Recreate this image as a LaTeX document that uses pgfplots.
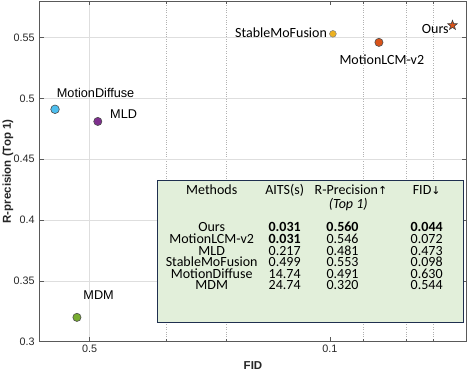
\documentclass[border=0pt]{standalone}
\usepackage{fontspec}
\setmainfont{Liberation Sans}
\newfontfamily\calfont{Carlito}
\newfontfamily\symfont{DejaVu Sans}
\usepackage{pgfplots}
\pgfplotsset{compat=1.18}

\definecolor{cDiff}{HTML}{4DBEEE}
\definecolor{cMLD}{HTML}{7E2F8E}
\definecolor{cMDM}{HTML}{77AC30}
\definecolor{cStable}{HTML}{EDB120}
\definecolor{cLCM}{HTML}{D95319}
\definecolor{cTab}{HTML}{E2EFDA}
\definecolor{cBorder}{HTML}{1F2F4F}

% filled five-pointed star (MATLAB pentagram)
\pgfdeclareplotmark{pstar}{%
  \pgfpathmoveto{\pgfpointpolar{90}{\pgfplotmarksize}}%
  \pgfpathlineto{\pgfpointpolar{126}{0.42\pgfplotmarksize}}%
  \pgfpathlineto{\pgfpointpolar{162}{\pgfplotmarksize}}%
  \pgfpathlineto{\pgfpointpolar{198}{0.42\pgfplotmarksize}}%
  \pgfpathlineto{\pgfpointpolar{234}{\pgfplotmarksize}}%
  \pgfpathlineto{\pgfpointpolar{270}{0.42\pgfplotmarksize}}%
  \pgfpathlineto{\pgfpointpolar{306}{\pgfplotmarksize}}%
  \pgfpathlineto{\pgfpointpolar{342}{0.42\pgfplotmarksize}}%
  \pgfpathlineto{\pgfpointpolar{18}{\pgfplotmarksize}}%
  \pgfpathlineto{\pgfpointpolar{54}{0.42\pgfplotmarksize}}%
  \pgfpathclose
  \pgfusepathqfillstroke}

\newcommand{\trow}[5]{%
  \node[anchor=base] at (211.7,#1) {#2};
  \node[anchor=base] at (284.7,#1) {#3};
  \node[anchor=base] at (342.5,#1) {#4};
  \node[anchor=base] at (426.7,#1) {#5};}

\begin{document}
\begin{tikzpicture}
\begin{axis}[
    name=ax,
    scale only axis,
    width=427.4pt,
    height=340.7pt,
    xmode=log,
    x dir=reverse,
    xmin=0.04, xmax=0.7,
    ymin=0.3, ymax=0.58,
    xtick={0.1},
    xticklabels={0.1},
    extra x ticks={0.5},
    extra x tick labels={0.5},
    extra x tick style={grid=major},
    minor xtick={0.3,0.2,0.08,0.06,0.05},
    xminorgrids,
    ytick={0.3,0.35,0.4,0.45,0.5,0.55},
    yticklabels={0.3,0.35,0.4,0.45,0.5,0.55},
    ymajorgrids,
    major grid style={black!13, line width=0.5pt},
    minor grid style={black!30, dotted, line width=0.5pt},
    tick align=inside,
    major tick length=4.5pt,
    minor tick length=3pt,
    tick style={black!65, line width=0.5pt},
    axis line style={black!65, line width=0.6pt},
    ticklabel style={font=\fontsize{10.8}{12}\selectfont, text=black!85},
    /pgf/number format/assume math mode=true,
    yticklabel style={xshift=-1.2pt},
    xlabel={FID},
    ylabel={R-precision (Top 1)},
    xlabel style={font=\bfseries\fontsize{11.5}{13}\selectfont, text=black!85,
        at={(axis description cs:0.5,-0.0713)}, anchor=center},
    ylabel style={font=\bfseries\fontsize{11.5}{13}\selectfont, text=black!85,
        at={(axis description cs:-0.0735,0.5)}, anchor=center},
    clip=false,
]
% MotionDiffuse
\addplot[only marks, mark=*, mark size=4.3pt,
    mark options={fill=cDiff, draw=black!70, line width=0.6pt}]
    coordinates {(0.630,0.491)};
% MLD
\addplot[only marks, mark=*, mark size=4.1pt,
    mark options={fill=cMLD, draw=black!70, line width=0.6pt}]
    coordinates {(0.473,0.481)};
% MDM
\addplot[only marks, mark=*, mark size=4.1pt,
    mark options={fill=cMDM, draw=black!70, line width=0.6pt}]
    coordinates {(0.544,0.320)};
% StableMoFusion
\addplot[only marks, mark=*, mark size=3.4pt,
    mark options={fill=cStable, draw=black!50, line width=0.5pt}]
    coordinates {(0.098,0.553)};
% MotionLCM-v2
\addplot[only marks, mark=*, mark size=4.1pt,
    mark options={fill=cLCM, draw=black!70, line width=0.6pt}]
    coordinates {(0.072,0.546)};
% Ours
\addplot[only marks, mark=pstar, mark size=5pt,
    mark options={fill=cLCM, draw=black!75, line width=0.6pt}]
    coordinates {(0.044,0.560)};
\end{axis}

% annotations, in pixel units from the top-left corner of the figure
\begin{scope}[shift={(ax.north west)}, xshift=-39.3pt, yshift=1pt, x=1pt, y=-1pt,
    every node/.style={inner sep=0pt}]
  \node[anchor=base west, font=\fontsize{12.7}{14}\selectfont] at (56.7,97.3) {MotionDiffuse};
  \node[anchor=base west, font=\fontsize{12.7}{14}\selectfont] at (110,119) {MLD};
  \node[anchor=base west, font=\fontsize{12.7}{14}\selectfont] at (83.3,299.3) {MDM};
  \node[anchor=base west, font=\calfont\fontsize{14}{16}\selectfont] at (235,37.3) {StableMoFusion};
  \node[anchor=base west, font=\calfont\fontsize{14}{16}\selectfont] at (339.3,65) {MotionLCM-v2};
  \node[anchor=base west, font=\calfont\fontsize{14}{16}\selectfont] at (421.7,33.3) {Ours};

  \draw[draw=cBorder, line width=0.9pt, fill=cTab] (157.3,180) rectangle (463.3,322.5);
  \begin{scope}[font=\calfont\fontsize{14}{15}\selectfont]
    \node[anchor=base] at (211.7,194.4) {Methods};
    \node[anchor=base] at (284.7,194.4) {AITS(s)};
    \node[anchor=base] at (351,194.4) {R-Precision{\symfont\fontsize{11}{13}\selectfont↑}};
    \node[anchor=base] at (426.7,194.4) {FID{\symfont\fontsize{11}{13}\selectfont↓}};
    \node[anchor=base] at (348.3,208.8) {\itshape (Top 1)};
    \trow{231.1}{Ours}{\bfseries 0.031}{\bfseries 0.560}{\bfseries 0.044}
    \trow{243.7}{MotionLCM-v2}{\bfseries 0.031}{0.546}{0.072}
    \trow{255.1}{MLD}{0.217}{0.481}{0.473}
    \trow{266.7}{StableMoFusion}{0.499}{0.553}{0.098}
    \trow{278.4}{MotionDiffuse}{14.74}{0.491}{0.630}
    \trow{289.4}{MDM}{24.74}{0.320}{0.544}
  \end{scope}
\end{scope}

\pgfresetboundingbox
\path (ax.north west) ++(-39.3pt,1pt) rectangle ++(472pt,-372pt);
\end{tikzpicture}
\end{document}
